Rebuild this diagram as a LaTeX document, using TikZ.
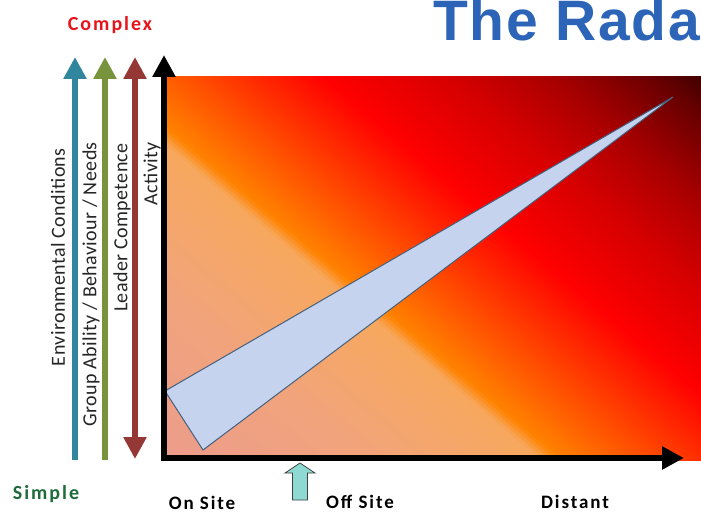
\documentclass[tikz,border=0pt]{standalone}
\usepackage{fontspec}
\setmainfont{Carlito}
\newfontfamily\lblfont[LetterSpace=10]{Carlito}
\newfontfamily\sidefont[LetterSpace=2]{Carlito}
\newfontfamily\titlefont[LetterSpace=3]{Liberation Sans}
\usetikzlibrary{arrows.meta}
\definecolor{g0}{HTML}{EC9C8C}
\definecolor{g1}{HTML}{F1A47C}
\definecolor{g2}{HTML}{F7A85E}
\definecolor{g3}{HTML}{FF8200}
\definecolor{g4}{HTML}{FF0000}
\definecolor{g5}{HTML}{D40000}
\definecolor{g6}{HTML}{A80000}
\definecolor{g7}{HTML}{6A0000}
\definecolor{g8}{HTML}{400000}
\definecolor{tealc}{HTML}{31859C}
\definecolor{greenc}{HTML}{77933C}
\definecolor{redc}{HTML}{953735}
\definecolor{triblue}{HTML}{C5D3EE}
\definecolor{triedge}{HTML}{44607F}
\definecolor{titleblue}{HTML}{2C64B8}
\definecolor{simplegreen}{HTML}{1E6B3C}
\definecolor{complexred}{HTML}{E8141C}
\definecolor{blockfill}{HTML}{8FD9D3}
\tikzset{
  axisarrow/.style={line width=6pt, -{Triangle[width=22pt,length=22pt]}},
  sidelabel/.style={rotate=90, anchor=east, inner sep=0pt, text=black!85, font=\sidefont\fontsize{20}{24}\selectfont},
  boldlabel/.style={anchor=base, inner sep=0pt, font=\lblfont\bfseries\fontsize{19}{22}\selectfont},
}
\begin{document}
\begin{tikzpicture}[x=1pt,y=-1pt]
\useasboundingbox (0,0) rectangle (701,513);
\fill[white] (0,0) rectangle (701,513);
% title
\node[anchor=base west, inner sep=0pt, text=titleblue, font=\titlefont\bfseries\fontsize{57}{62}\selectfont] (title) at (433,41) {The Rada};
% gradient field (diagonal bands)
\begin{scope}
\clip (165,77) rectangle (701,460);
\foreach \a/\b/\ca/\cb in {0/128/g0/g1, 128/242/g1/g2, 242/255/g2/g3, 255/396/g3/g4, 396/479/g4/g5, 479/542/g5/g6, 542/606/g6/g7, 606/640/g7/g8}{
  \pgfmathtruncatemacro\n{max(1,round((\b-\a)/3))}
  \foreach \i in {1,...,\n}{
    \pgfmathsetmacro\sa{\a+(\i-1)*(\b-\a)/\n}
    \pgfmathsetmacro\sb{\a+\i*(\b-\a)/\n+0.8}
    \pgfmathsetmacro\p{100*(\i-0.5)/\n}
    \fill[\cb!\p!\ca] ({165+\sa*0.643-612.8},{460-\sa*0.766-514.4}) -- ({165+\sa*0.643+612.8},{460-\sa*0.766+514.4}) -- ({165+\sb*0.643+612.8},{460-\sb*0.766+514.4}) -- ({165+\sb*0.643-612.8},{460-\sb*0.766-514.4}) -- cycle;
  }
}
\end{scope}
% sliver
\coordinate (tl) at (165,391);
\coordinate (tb) at (203,450);
\coordinate (tt) at (673,97);
\draw[fill=triblue, draw=triedge, line width=1pt, line join=round] (tl) -- (tb) -- (tt) -- cycle;
% side arrows
\coordinate (ta0) at (75,460); \coordinate (ta1) at (75,57);
\coordinate (ga0) at (105,460); \coordinate (ga1) at (105,57);
\coordinate (ra0) at (135,459); \coordinate (ra1) at (135,57);
\coordinate (origin) at (164,458);
\coordinate (ya1) at (164,55);
\coordinate (xa1) at (684,458);
\draw[axisarrow, tealc] (ta0) -- (ta1);
\draw[axisarrow, greenc] (ga0) -- (ga1);
\draw[line width=6pt, redc, {Triangle[width=22pt,length=22pt]}-{Triangle[width=22pt,length=22pt]}] (ra0) -- (ra1);
\draw[axisarrow, black] ([yshift=-3pt]origin) -- (ya1);
\draw[axisarrow, black] ([xshift=-3pt]origin) -- (xa1);
% side labels
\node[sidelabel] (env) at (58,148) {Environmental Conditions};
\node[sidelabel] (grp) at (91,142) {Group Ability / Behaviour / Needs};
\node[sidelabel] (ldr) at (122,143) {Leader Competence};
\node[sidelabel] (act) at (152,142) {Activity};
% top / bottom labels
\node[boldlabel, text=complexred, font=\lblfont\bfseries\fontsize{20}{24}\selectfont] (complex) at (110,31) {Complex};
\node[boldlabel, text=simplegreen, font=\lblfont\bfseries\fontsize{20}{24}\selectfont] (simple) at (46,499) {Simple};
\node[boldlabel] (onsite) at (202,509) {On Site};
\node[boldlabel] (offsite) at (360,508) {Off Site};
\node[boldlabel] (distant) at (575,508) {Distant};
% small block arrow
\coordinate (bt) at (300,463);
\draw[fill=blockfill, draw=black!75, line width=0.8pt, line join=miter] (bt) -- (315,473) -- (307.5,473) -- (307.5,500) -- (292.5,500) -- (292.5,473) -- (285,473) -- cycle;
\end{tikzpicture}
\end{document}
